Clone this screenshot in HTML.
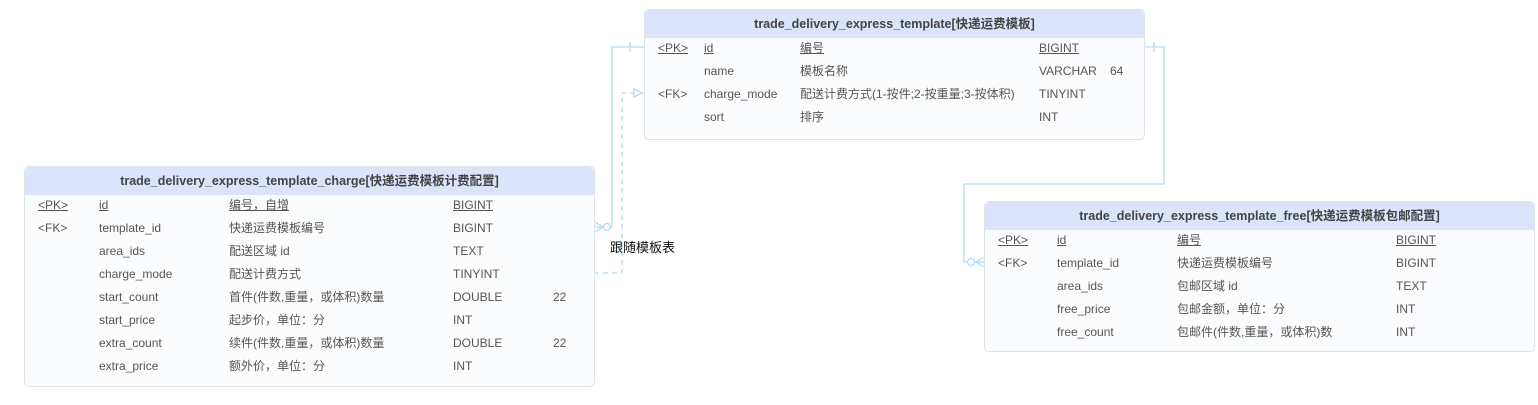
<!DOCTYPE html>
<html><head><meta charset="utf-8"><style>
body{margin:0;width:1538px;height:405px;background:#fff;position:relative;overflow:hidden;font-family:"Liberation Sans","Noto Sans CJK SC",sans-serif;}
.t{position:absolute;background:#fbfcfe;border:1px solid #dfe3ea;border-radius:5px;box-sizing:border-box;}
.h{position:absolute;left:0;right:0;top:0;height:28px;background:#dce4fb;border-radius:5px 5px 0 0;font-weight:bold;font-size:12.5px;color:#444;text-align:center;line-height:28px;}
.c{position:absolute;font-size:12px;color:#555;white-space:nowrap;line-height:14px;}
.u{text-decoration:underline;}
.lbl{position:absolute;font-size:13px;color:#111;font-family:"Liberation Sans","Noto Sans CJK SC",sans-serif;}
svg{position:absolute;left:0;top:0;}
</style></head><body>
<svg width="1538" height="405">
<g stroke="#b5dcf5" stroke-width="1.3" fill="none">
<polyline points="644,47 612,47 612,227 595,227"/>
<line x1="630" y1="42" x2="630" y2="52"/>
<circle cx="607" cy="227" r="3.5" fill="#fff"/>
<polyline points="595,222 603,227 595,232"/>
<polyline points="644,93 622,93 622,273 595,273" stroke-dasharray="5,4"/>
<polygon points="634,89 642,93 634,97" fill="#fff" stroke-dasharray="none"/>
<polyline points="1145,47 1164,47 1164,184 964,184 964,262 984,262"/>
<line x1="1154" y1="42" x2="1154" y2="52"/>
<circle cx="971" cy="262" r="3.5" fill="#fff"/>
<polyline points="984,257 976,262 984,267"/>
</g>
</svg>
<div class="lbl" style="left:610px;top:237px">跟随模板表</div>

<div class="t" style="left:644px;top:9px;width:501px;height:131px">
<div class="h">trade_delivery_express_template[快递运费模板]</div>
<span class="c u" style="left:13px;top:31px">&lt;PK&gt;</span><span class="c u" style="left:59px;top:31px">id</span><span class="c u" style="left:155px;top:31px">编号</span><span class="c u" style="left:394px;top:31px">BIGINT</span>
<span class="c" style="left:59px;top:54px">name</span><span class="c" style="left:155px;top:54px">模板名称</span><span class="c" style="left:394px;top:54px">VARCHAR</span><span class="c" style="left:465px;top:54px">64</span>
<span class="c" style="left:13px;top:77px">&lt;FK&gt;</span><span class="c" style="left:59px;top:77px">charge_mode</span><span class="c" style="left:155px;top:77px">配送计费方式(1-按件;2-按重量;3-按体积)</span><span class="c" style="left:394px;top:77px">TINYINT</span>
<span class="c" style="left:59px;top:100px">sort</span><span class="c" style="left:155px;top:100px">排序</span><span class="c" style="left:394px;top:100px">INT</span>
</div>

<div class="t" style="left:24px;top:166px;width:571px;height:221px">
<div class="h">trade_delivery_express_template_charge[快递运费模板计费配置]</div>
<span class="c u" style="left:13px;top:31px">&lt;PK&gt;</span><span class="c u" style="left:74px;top:31px">id</span><span class="c u" style="left:204px;top:31px">编号，自增</span><span class="c u" style="left:428px;top:31px">BIGINT</span>
<span class="c" style="left:13px;top:54px">&lt;FK&gt;</span><span class="c" style="left:74px;top:54px">template_id</span><span class="c" style="left:204px;top:54px">快递运费模板编号</span><span class="c" style="left:428px;top:54px">BIGINT</span>
<span class="c" style="left:74px;top:77px">area_ids</span><span class="c" style="left:204px;top:77px">配送区域 id</span><span class="c" style="left:428px;top:77px">TEXT</span>
<span class="c" style="left:74px;top:100px">charge_mode</span><span class="c" style="left:204px;top:100px">配送计费方式</span><span class="c" style="left:428px;top:100px">TINYINT</span>
<span class="c" style="left:74px;top:123px">start_count</span><span class="c" style="left:204px;top:123px">首件(件数,重量，或体积)数量</span><span class="c" style="left:428px;top:123px">DOUBLE</span><span class="c" style="left:528px;top:123px">22</span>
<span class="c" style="left:74px;top:146px">start_price</span><span class="c" style="left:204px;top:146px">起步价，单位：分</span><span class="c" style="left:428px;top:146px">INT</span>
<span class="c" style="left:74px;top:169px">extra_count</span><span class="c" style="left:204px;top:169px">续件(件数,重量，或体积)数量</span><span class="c" style="left:428px;top:169px">DOUBLE</span><span class="c" style="left:528px;top:169px">22</span>
<span class="c" style="left:74px;top:192px">extra_price</span><span class="c" style="left:204px;top:192px">额外价，单位：分</span><span class="c" style="left:428px;top:192px">INT</span>
</div>

<div class="t" style="left:984px;top:201px;width:551px;height:151px">
<div class="h">trade_delivery_express_template_free[快递运费模板包邮配置]</div>
<span class="c u" style="left:13px;top:31px">&lt;PK&gt;</span><span class="c u" style="left:72px;top:31px">id</span><span class="c u" style="left:192px;top:31px">编号</span><span class="c u" style="left:411px;top:31px">BIGINT</span>
<span class="c" style="left:13px;top:54px">&lt;FK&gt;</span><span class="c" style="left:72px;top:54px">template_id</span><span class="c" style="left:192px;top:54px">快递运费模板编号</span><span class="c" style="left:411px;top:54px">BIGINT</span>
<span class="c" style="left:72px;top:77px">area_ids</span><span class="c" style="left:192px;top:77px">包邮区域 id</span><span class="c" style="left:411px;top:77px">TEXT</span>
<span class="c" style="left:72px;top:100px">free_price</span><span class="c" style="left:192px;top:100px">包邮金额，单位：分</span><span class="c" style="left:411px;top:100px">INT</span>
<span class="c" style="left:72px;top:123px">free_count</span><span class="c" style="left:192px;top:123px">包邮件(件数,重量，或体积)数</span><span class="c" style="left:411px;top:123px">INT</span>
</div>
</body></html>
